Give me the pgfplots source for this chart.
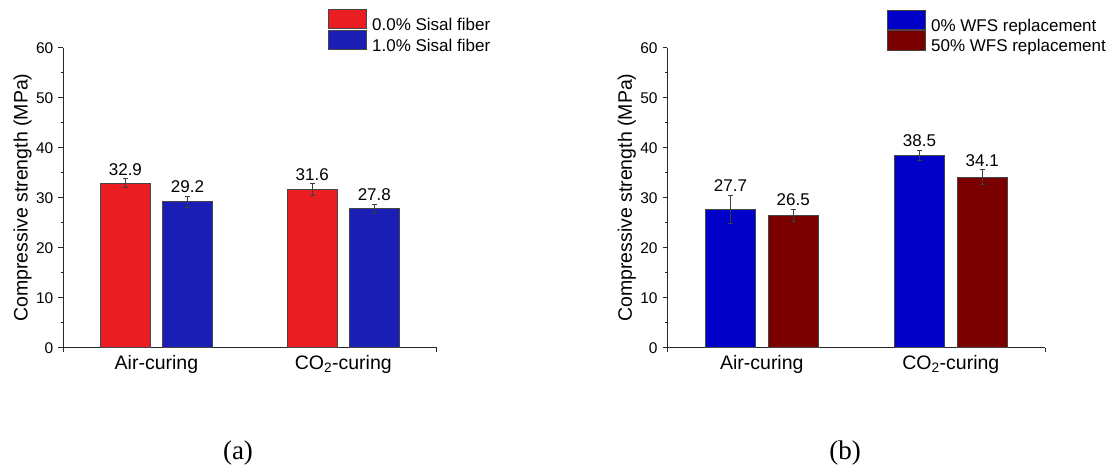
\documentclass[border=0pt]{standalone}
\usepackage{fontspec}
\setmainfont{Liberation Sans}
\newfontfamily\timesfont{Liberation Serif}
\usepackage{pgfplots}
\pgfplotsset{compat=1.18}

\definecolor{redA}{RGB}{234,30,34}
\definecolor{blueA}{RGB}{26,30,180}
\definecolor{blueB}{RGB}{0,0,200}
\definecolor{wine}{RGB}{122,0,0}
\definecolor{edge}{RGB}{70,70,70}
\definecolor{axc}{RGB}{40,40,40}
\definecolor{errc}{RGB}{60,60,60}

\pgfplotsset{
  barleg/.style={legend image code/.code={\draw[##1, line width=0.8pt, draw=edge] (0pt,-3.65pt) rectangle (38pt,15.85pt);}},
  panel/.style={
    scale only axis, height=300pt,
    xmin=-0.5, xmax=1.5, ymin=0, ymax=60,
    axis x line=bottom, axis y line=left,
    axis line style={-, line width=1pt, draw=axc},
    ytick={0,10,...,60}, minor y tick num=1,
    tick align=outside, major tick length=4.5pt, minor tick length=2.5pt,
    every tick/.style={line width=0.8pt, draw=axc},
    xtick={-0.5,1.5}, xticklabels={},
    extra x ticks={0,1},
    extra x tick labels={Air-curing, CO\textsubscript{2}-curing},
    extra x tick style={major tick length=0pt,
      tick label style={font=\fontsize{19.5}{22}\selectfont, inner sep=0pt, yshift=-7pt}},
    yticklabel style={font=\fontsize{15.5}{18}\selectfont, inner sep=0pt, xshift=-5pt},
    /pgf/number format/assume math mode=true,
    every axis y label/.style={at={(axis description cs:0,0.5)}, rotate=90, anchor=center, yshift=40.5pt,
      font=\fontsize{19.5}{22}\selectfont},
    ylabel={Compressive strength (MPa)},
    legend style={draw=none, fill=none, inner sep=0pt, outer sep=0pt, row sep=-2.5pt,
      nodes={inner sep=0pt}, column sep=5pt, font=\fontsize{17}{20}\selectfont},
    legend cell align=left,
    bars/.style={ybar, bar width=0.266, bar shift=0pt, line width=0.8pt, draw=edge,
      error bars/y dir=both, error bars/y explicit,
      error bars/error bar style={line width=0.6pt, draw=errc},
      error bars/error mark options={line width=0.6pt, mark size=2.5pt, draw=errc, rotate=90}},
    vals/.style={only marks, mark=none, point meta=explicit symbolic, nodes near coords,
      every node near coord/.style={anchor=base, yshift=3.5pt, inner sep=0pt, font=\fontsize{17}{20}\selectfont, text=black}},
  }
}

\begin{document}
\begin{tikzpicture}
\useasboundingbox (0pt,0pt) rectangle (1109pt,470pt);

% ---------- (a) ----------
\begin{axis}[panel, width=373.7pt, at={(63pt,122.3pt)}, anchor=south west,
  legend style={at={(0.71,1.129)}, anchor=north west}]
\addlegendimage{barleg, fill=redA}
\addlegendentry{0.0\% Sisal fiber}
\addlegendimage{barleg, fill=blueA}
\addlegendentry{1.0\% Sisal fiber}
\addplot[bars, fill=redA, forget plot] coordinates {(-0.166,32.9) +- (0,0.9) (0.834,31.6) +- (0,1.2)};
\addplot[bars, fill=blueA, forget plot] coordinates {(0.166,29.2) +- (0,1.05) (1.166,27.8) +- (0,0.85)};
\addplot[vals, forget plot] coordinates {(-0.166,33.8) [32.9] (0.834,32.8) [31.6] (0.166,30.25) [29.2] (1.166,28.65) [27.8]};
\end{axis}

% ---------- (b) ----------
\begin{axis}[panel, width=378pt, at={(667.3pt,122.3pt)}, anchor=south west,
  legend style={at={(0.582,1.127)}, anchor=north west}]
\addlegendimage{barleg, fill=blueB}
\addlegendentry{0\% WFS replacement}
\addlegendimage{barleg, fill=wine}
\addlegendentry{50\% WFS replacement}
\addplot[bars, fill=blueB, forget plot] coordinates {(-0.166,27.7) +- (0,2.8) (0.834,38.5) +- (0,1.05)};
\addplot[bars, fill=wine, forget plot] coordinates {(0.166,26.5) +- (0,1.2) (1.166,34.1) +- (0,1.5)};
\addplot[vals, forget plot] coordinates {(-0.166,30.5) [27.7] (0.834,39.55) [38.5] (0.166,27.7) [26.5] (1.166,35.6) [34.1]};
\end{axis}

\node[font=\timesfont\fontsize{27}{32}\selectfont] at (238pt,17pt) {(a)};
\node[font=\timesfont\fontsize{27}{32}\selectfont] at (845pt,17pt) {(b)};
\end{tikzpicture}
\end{document}
